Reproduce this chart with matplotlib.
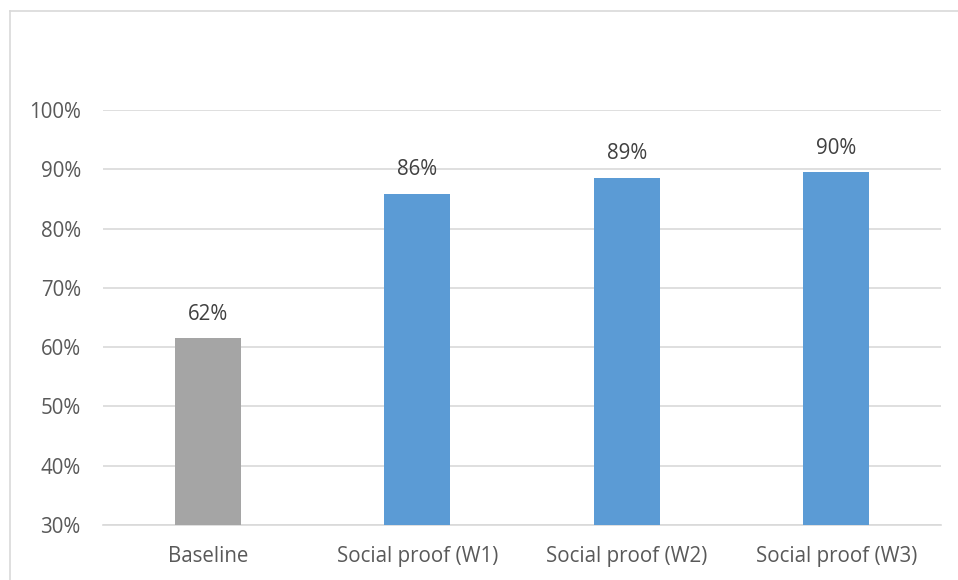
import matplotlib
matplotlib.use('Agg')
import matplotlib.pyplot as plt
from matplotlib.lines import Line2D
import numpy as np

# Data
categories = ['Baseline', 'Social proof (W1)', 'Social proof (W2)', 'Social proof (W3)']
values = [61.6, 85.9, 88.6, 89.6]
labels = ['62%', '86%', '89%', '90%']
colors = ['#A5A5A5', '#5B9BD5', '#5B9BD5', '#5B9BD5']

plt.rcParams['font.family'] = ['Open Sans', 'DejaVu Sans']
text_color = '#595959'
fs = 14.8

fig = plt.figure(figsize=(9.58, 5.8), dpi=100)
ax = fig.add_axes([103/958, 1 - 525/580, 838/958, 415/580])

x = np.arange(len(categories))
ax.bar(x, [v - 30 for v in values], bottom=30, width=0.315, color=colors, zorder=3)

for xi, v, lab in zip(x, values, labels):
	ax.annotate(lab, xy=(xi, v), xytext=(0, 17), textcoords='offset points',
		ha='center', va='center', fontsize=fs, color='#404040')

ax.set_xlim(-0.5, len(categories) - 0.5)
ax.set_ylim(30, 100)
ax.set_yticks(np.arange(30, 101, 10))
ax.set_yticklabels([f'{t}%' for t in range(30, 101, 10)])
ax.set_xticks(x)
ax.set_xticklabels(categories)
ax.tick_params(axis='both', length=0, labelsize=fs, colors=text_color)
ax.tick_params(axis='y', pad=16)
ax.tick_params(axis='x', pad=15)

ax.grid(axis='y', color='#D9D9D9', linewidth=1.2, zorder=0)
for s in ['top', 'right', 'left']:
	ax.spines[s].set_visible(False)
ax.spines['bottom'].set_color('#D9D9D9')
ax.spines['bottom'].set_linewidth(1.2)

# chart frame
fig.add_artist(Line2D([10/958, 1.01], [1 - 11/580, 1 - 11/580], color='#D9D9D9', lw=1.2, transform=fig.transFigure))
fig.add_artist(Line2D([10/958, 10/958], [1 - 11/580, -0.01], color='#D9D9D9', lw=1.2, transform=fig.transFigure))

fig.savefig('out.png', dpi=100)
